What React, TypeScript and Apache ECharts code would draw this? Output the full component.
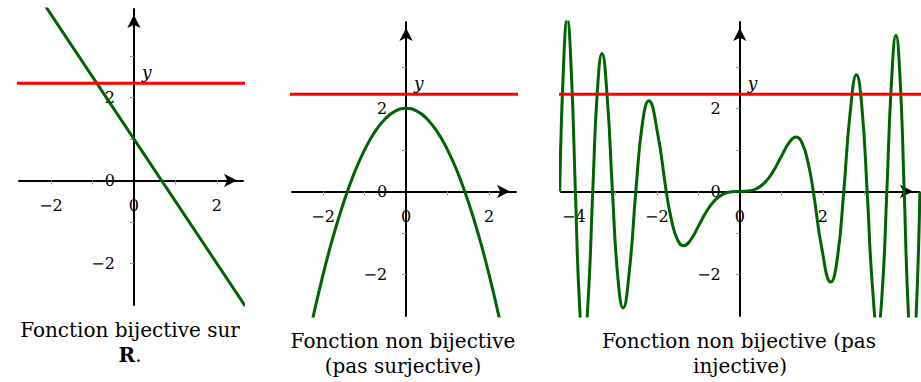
import React, { useEffect, useRef } from 'react';
import * as echarts from 'echarts';

// Panel 1 : straight line (bijective)
const lineX = [-2.8, 2.7];
const lineY = [5.2, -3.05];

// Panel 2 : parabola (non surjective)
const parabolaX = [-2.25, -2, -1.75, -1.5, -1.25, -1, -0.75, -0.5, -0.25, 0, 0.25, 0.5, 0.75, 1, 1.25, 1.5, 1.75, 2, 2.25];
const parabolaY = [-3.06, -2, -1.06, -0.25, 0.44, 1, 1.44, 1.75, 1.94, 2, 1.94, 1.75, 1.44, 1, 0.44, -0.25, -1.06, -2, -3.06];

// Panel 3 : oscillating curve (non injective)
const waveX = [
  -4.3416, -4.2502, -4.1603, -4.0612, -3.9633, -3.863, -3.7646, -3.654, -3.5449, -3.4324,
  -3.3228, -3.1953, -3.07, -2.9393, -2.8137, -2.6587, -2.5066, -2.3447, -2.1945, -1.9817,
  -1.7725, -1.65, -1.5, -1.355, -1.2, -1.0, -0.8, -0.6, -0.4, -0.2,
  0,
  0.2, 0.4, 0.6, 0.8, 1.0, 1.2, 1.355, 1.5, 1.65, 1.7725,
  1.9817, 2.1945, 2.3447, 2.5066, 2.6587, 2.8137, 2.9393, 3.07, 3.1953, 3.3228,
  3.4324, 3.5449, 3.654, 3.7646, 3.863, 3.9633, 4.0612, 4.1603, 4.2502, 4.3416,
];
const waveY = [
  0, 3.005, 4.159, 2.872, 0, -2.732, -3.762, -2.584, 0, 2.427,
  3.319, 2.259, 0, -2.078, -2.808, -1.88, 0, 1.658, 2.183, 1.401,
  0, -0.672, -1.167, -1.308, -1.19, -0.842, -0.478, -0.211, -0.064, -0.008,
  0,
  0.008, 0.064, 0.211, 0.478, 0.842, 1.19, 1.308, 1.167, 0.672, 0,
  -1.401, -2.183, -1.658, 0, 1.88, 2.808, 2.078, 0, -2.259, -3.319,
  -2.427, 0, 2.584, 3.762, 2.732, 0, -2.872, -4.159, -3.005, 0,
];

// Horizontal red level (same in the three panels)
const redLevel = 2.34;
const redSpan = [-6, 6];

// Ticks and tick labels
const ticksX1 = [-2, -1, 1, 2];
const ticksY1 = [-2, -1, 1, 2, 3];
const labelsX1 = [-2, 0, 2];
const labelsY1 = [-2, 0, 2];
const ticksX2 = [-2, -1, 1, 2];
const ticksY2 = [-2, -1, 1, 2, 3];
const labelsX2 = [-2, 0, 2];
const labelsY2 = [-2, 0, 2];
const ticksX3 = [-4, -3, -2, -1, 1, 2, 3, 4];
const ticksY3 = [-2, -1, 1, 2, 3];
const labelsX3 = [-4, -2, 0, 2];
const labelsY3 = [-2, 0, 2];

const captions = [
  ['Fonction bijective sur', '{b|R}.'],
  ['Fonction non bijective', '(pas surjective)'],
  ['Fonction non bijective (pas', 'injective)'],
];

const FONT = '"DejaVu Serif", "Liberation Serif", serif';
const GREEN = '#006400';
const RED = '#ff0000';

// panel layout: grid box in px and axis ranges
const panels = [
  { left: 19, top: 9, width: 224, height: 296, xMin: -2.77, xMax: 2.63, yMin: -3, yMax: 4.13 },
  { left: 292, top: 22, width: 224, height: 294, xMin: -2.75, xMax: 2.65, yMin: -3, yMax: 4.08 },
  { left: 561, top: 22, width: 358, height: 294, xMin: -4.31, xMax: 4.32, yMin: -3, yMax: 4.08 },
];

const fmt = (v: number) => (v < 0 ? '\u2212' + Math.abs(v) : String(v));

const axisLineStyle = {
  onZero: false,
  lineStyle: { color: '#000', width: 2 },
  symbol: ['none', 'arrow'],
  symbolSize: [10, 13],
  symbolOffset: [0, -6],
};

function xAxis(i: number, ticks: number[], labels: number[]) {
  const p = panels[i];
  // move the axis from the grid bottom up to y = 0
  const offset = -((0 - p.yMin) / (p.yMax - p.yMin)) * p.height;
  return {
    type: 'value', gridIndex: i, min: p.xMin, max: p.xMax, position: 'bottom', offset,
    splitLine: { show: false },
    axisLine: axisLineStyle,
    axisTick: { show: true, customValues: ticks, length: 4, lineStyle: { color: '#999', width: 1 } },
    axisLabel: { customValues: labels, formatter: fmt, margin: 17, color: '#000', fontFamily: FONT, fontSize: 16, hideOverlap: false },
  };
}

function yAxis(i: number, ticks: number[], labels: number[], nameValue: number) {
  const p = panels[i];
  // move the axis from the grid left edge to x = 0
  const offset = -((0 - p.xMin) / (p.xMax - p.xMin)) * p.width;
  const nameGap = -((p.yMax - nameValue) / (p.yMax - p.yMin)) * p.height;
  return {
    type: 'value', gridIndex: i, min: p.yMin, max: p.yMax, position: 'left', offset,
    name: 'y',
    nameLocation: 'end',
    nameGap,
    nameTextStyle: { fontFamily: FONT, fontStyle: 'italic', fontSize: 17, color: '#000', align: 'left', verticalAlign: 'middle', padding: [0, 0, 0, 8] },
    splitLine: { show: false },
    axisLine: axisLineStyle,
    axisTick: { show: true, customValues: ticks, length: 4, lineStyle: { color: '#999', width: 1 } },
    axisLabel: { customValues: labels, formatter: fmt, margin: 19, color: '#000', fontFamily: FONT, fontSize: 16, hideOverlap: false },
  };
}

const pairs = (xs: number[], ys: number[]) => xs.map((x, i) => [x, ys[i]]);

function curve(idx: number, data: number[][], smooth: boolean) {
  return {
    type: 'line', xAxisIndex: idx, yAxisIndex: idx, data, smooth, showSymbol: false, clip: true,
    lineStyle: { color: GREEN, width: 3 }, silent: true,
  };
}
function redLine(idx: number) {
  return {
    type: 'line', xAxisIndex: idx, yAxisIndex: idx,
    data: redSpan.map((x) => [x, redLevel]), showSymbol: false, clip: true,
    lineStyle: { color: RED, width: 3 }, silent: true,
  };
}

function captionText(x: number, y: number, text: string) {
  return {
    type: 'text', x, y,
    style: {
      text, fill: '#000', fontFamily: FONT, fontSize: 20, align: 'center', verticalAlign: 'middle',
      rich: { b: { fontFamily: FONT, fontSize: 20, fontWeight: 'bold', fill: '#000' } },
    },
  };
}

export default function App() {
  const ref = useRef<HTMLDivElement>(null);
  useEffect(() => {
    if (!ref.current) return;
    const chart = echarts.init(ref.current, null, { renderer: 'svg' });
    chart.setOption({
      animation: false,
      backgroundColor: '#fff',
      grid: panels.map((p) => ({
        left: p.left, top: p.top, width: p.width, height: p.height,
        containLabel: false, outerBoundsMode: 'none',
      })),
      xAxis: [xAxis(0, ticksX1, labelsX1), xAxis(1, ticksX2, labelsX2), xAxis(2, ticksX3, labelsX3)],
      yAxis: [yAxis(0, ticksY1, labelsY1, 2.61), yAxis(1, ticksY2, labelsY2, 2.61), yAxis(2, ticksY3, labelsY3, 2.61)],
      series: [
        curve(0, pairs(lineX, lineY), false),
        redLine(0),
        curve(1, pairs(parabolaX, parabolaY), true),
        redLine(1),
        curve(2, pairs(waveX, waveY), true),
        redLine(2),
      ],
      graphic: [
        captionText(130, 330, captions[0][0]),
        captionText(130, 355, captions[0][1]),
        captionText(403, 341, captions[1][0]),
        captionText(403, 366, captions[1][1]),
        captionText(739, 341, captions[2][0]),
        captionText(740, 366, captions[2][1]),
      ],
    });
    return () => chart.dispose();
  }, []);
  return <div ref={ref} style={{ position: 'fixed', left: 0, top: 0, width: 921, height: 382 }} />;
}
